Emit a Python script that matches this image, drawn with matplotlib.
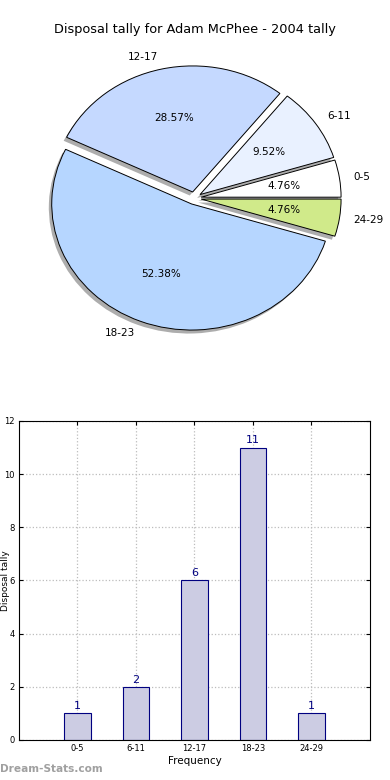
import matplotlib
matplotlib.use("Agg")
import matplotlib.pyplot as plt

categories = ["0-5", "6-11", "12-17", "18-23", "24-29"]
counts = [1, 2, 6, 11, 1]
pie_colors = ["#ffffff", "#e9f1ff", "#c5d9ff", "#b6d6ff", "#d0ea8a"]
title = "Disposal tally for Adam McPhee - 2004 tally"

fig = plt.figure(figsize=(3.9, 7.8), dpi=100)

# Pie
axp = fig.add_axes([0.0495, 0.544, 0.897, 0.404])
wedges, texts, autotexts = axp.pie(
    counts, labels=categories, colors=pie_colors, explode=[0.05] * 5,
    autopct="%1.2f%%", startangle=0,
    shadow={"ox": -0.015, "oy": -0.02, "facecolor": "#8a8a8a",
            "edgecolor": "none", "alpha": 0.7},
    labeldistance=1.1, pctdistance=0.6,
    wedgeprops=dict(edgecolor="black", linewidth=0.7),
    textprops=dict(fontsize=7.5))
axp.set_aspect("auto")
axp.set_xlim(-1.25, 1.25)
axp.set_ylim(-1.25, 1.25)
axp.axis("off")
fig.text(0.5, 1 - 30 / 780, title, ha="center", va="center", fontsize=9.3)

# Bars
axb = fig.add_axes([0.0487, 0.0513, 0.9, 0.409])
x = list(range(len(categories)))
axb.bar(x, counts, width=0.45, color="#ccccE3", edgecolor="#000080", linewidth=0.8, zorder=2)
for xi, v in zip(x, counts):
    axb.annotate(str(v), (xi, v), xytext=(0, 1.5), textcoords="offset points",
                 ha="center", va="bottom", color="#000080", fontsize=8)
axb.set_xlim(-1, 5)
axb.set_ylim(0, 12)
axb.set_xticks(x)
axb.set_xticklabels(categories)
axb.set_yticks(range(0, 13, 2))
axb.tick_params(direction="in", top=True, right=True, length=3, labelsize=6, pad=3)
axb.grid(True, linestyle=":", color="#bcbcbc", linewidth=0.9, zorder=0)
axb.set_axisbelow(True)
axb.set_xlabel("Frequency", fontsize=7.5, labelpad=2)
axb.set_ylabel("Disposal tally", fontsize=6.5)
axb.yaxis.set_label_coords(-0.026, 0.5)

fig.text(0.0, 6 / 780, "Dream-Stats.com", ha="left", va="bottom", fontsize=7.6,
         color="#a0a0a0", fontweight="bold")

fig.savefig("out.png", dpi=100)
